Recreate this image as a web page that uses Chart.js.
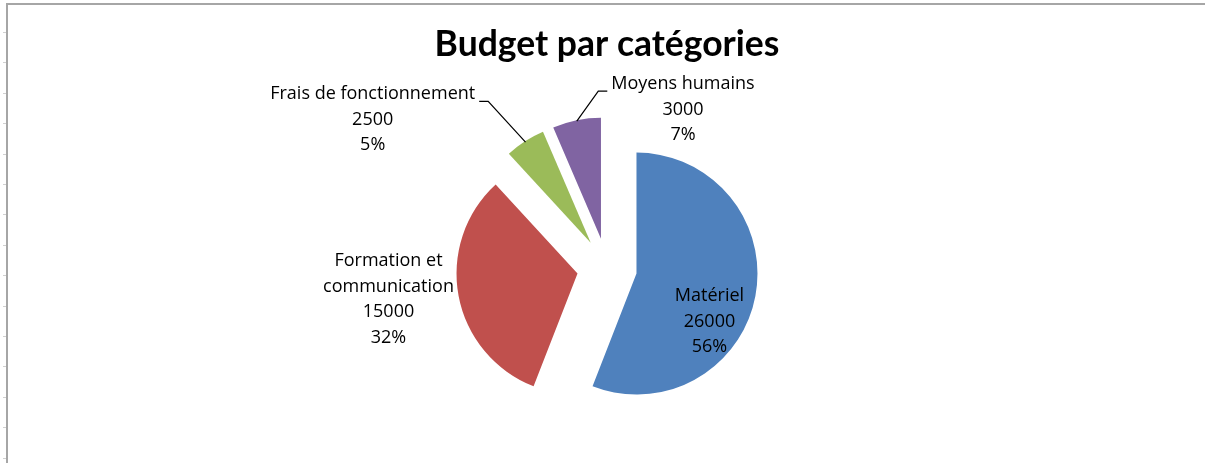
<!DOCTYPE html>
<html>
<head>
<meta charset="utf-8">
<script src="https://cdn.jsdelivr.net/npm/chart.js@4.4.1/dist/chart.umd.min.js"></script>
<style>
  html, body { margin: 0; padding: 0; background: #fff; }
  #wrap { position: relative; width: 1205px; height: 463px; overflow: hidden; }
  #wrap:before { content: ""; position: absolute; left: 6px; top: 3px; right: 0; height: 2px; background: #a6a6a6; }
  #wrap:after { content: ""; position: absolute; left: 6px; top: 3px; bottom: 0; width: 2px; background: #a6a6a6; }
  #ticks { position: absolute; left: 3px; top: 32px; bottom: 0; width: 3px;
    background: repeating-linear-gradient(to bottom, #d0d0d0 0, #d0d0d0 1px, transparent 1px, transparent 30.4px); }
  canvas { position: absolute; left: 0; top: 0; }
</style>
</head>
<body>
<div id="wrap"><div id="ticks"></div><canvas id="budgetPie" width="1205" height="463"></canvas></div>
<script>
  "use strict";

  var categories = ["Matériel", "Formation et communication", "Frais de fonctionnement", "Moyens humains"];
  var budget = [26000, 15000, 2500, 3000];
  var sliceColors = ["#4f81bd", "#c0504d", "#9bbb59", "#8064a2"];

  // excel style percents : largest remainder so the total stays 100
  function roundedPercents(vals) {
    var total = vals.reduce(function (a, b) { return a + b; }, 0);
    var raw = vals.map(function (v) { return v * 100 / total; });
    var out = raw.map(Math.floor);
    var left = 100 - out.reduce(function (a, b) { return a + b; }, 0);
    var order = raw.map(function (r, i) { return i; }).sort(function (a, b) {
      return (raw[b] - out[b]) - (raw[a] - out[a]);
    });
    for (var k = 0; k < left; k++) out[order[k]]++;
    return out;
  }

  function wrapText(ctx, text, maxWidth) {
    if (!maxWidth) return [text];
    var words = text.split(' '), lines = [], cur = '';
    words.forEach(function (w) {
      var test = cur ? cur + ' ' + w : w;
      if (cur && ctx.measureText(test).width > maxWidth) { lines.push(cur); cur = w; }
      else cur = test;
    });
    lines.push(cur);
    return lines;
  }

  // pulls every slice away from the centre without growing its radius
  var explode = {
    id: 'explode',
    afterDatasetUpdate: function (chart, args, opts) {
      args.meta.data.forEach(function (arc) {
        var mid = (arc.startAngle + arc.endAngle) / 2;
        arc.x += Math.cos(mid) * opts.distance;
        arc.y += Math.sin(mid) * opts.distance;
      });
    }
  };

  var sliceLabels = {
    id: 'sliceLabels',
    afterDatasetsDraw: function (chart, args, opts) {
      var ctx = chart.ctx;
      var meta = chart.getDatasetMeta(0);
      var data = chart.data.datasets[0].data;
      var pcts = roundedPercents(data);
      ctx.save();
      ctx.font = opts.font;
      ctx.fillStyle = opts.color;
      ctx.strokeStyle = opts.color;
      ctx.lineWidth = 1.2;
      ctx.textAlign = 'center';
      ctx.textBaseline = 'middle';
      meta.data.forEach(function (arc, i) {
        var mid = (arc.startAngle + arc.endAngle) / 2;
        var lx = arc.x + opts.shift[i][0], ly = arc.y + opts.shift[i][1];
        var lines = wrapText(ctx, chart.data.labels[i], opts.wrap[i]).concat([String(data[i]), pcts[i] + '%']);
        var top = ly - (lines.length - 1) * opts.lineHeight / 2;
        lines.forEach(function (line, k) {
          ctx.fillText(line, lx, top + k * opts.lineHeight);
        });
        var side = opts.leader[i];
        if (side) {
          var w = Math.max.apply(null, lines.map(function (l) { return ctx.measureText(l).width; }));
          var x0 = lx + side * (w / 2 + 4);
          var x1 = x0 + side * 9;
          var y0 = top + 7;
          var r = arc.outerRadius - 1;
          ctx.beginPath();
          ctx.moveTo(x0, y0);
          ctx.lineTo(x1, y0);
          ctx.lineTo(arc.x + Math.cos(mid) * r, arc.y + Math.sin(mid) * r);
          ctx.stroke();
        }
      });
      ctx.restore();
    }
  };

  new Chart(document.getElementById('budgetPie').getContext('2d'), {
    type: 'pie',
    data: {
      labels: categories,
      datasets: [{
        data: budget,
        backgroundColor: sliceColors,
        borderWidth: 0,
        hoverOffset: 0,
        radius: 121
      }]
    },
    options: {
      responsive: false,
      animation: false,
      events: [],
      layout: { padding: { left: 9, bottom: 2 } },
      plugins: {
        legend: { display: false },
        tooltip: { enabled: false },
        title: {
          display: true,
          text: 'Budget par catégories',
          color: '#000',
          font: { family: 'Lato', size: 35.5, weight: 'bold' },
          padding: { top: 23, bottom: 9.5 }
        },
        explode: { distance: 30 },
        sliceLabels: {
          font: '18px "Open Sans"',
          color: '#000',
          lineHeight: 25.5,
          shift: [[73, 48], [-189, 26], [-218, -123], [82, -129]],
          wrap: [0, 140, 0, 0],
          leader: [0, 0, 1, -1]
        }
      }
    },
    plugins: [explode, sliceLabels]
  });
</script>
</body>
</html>
